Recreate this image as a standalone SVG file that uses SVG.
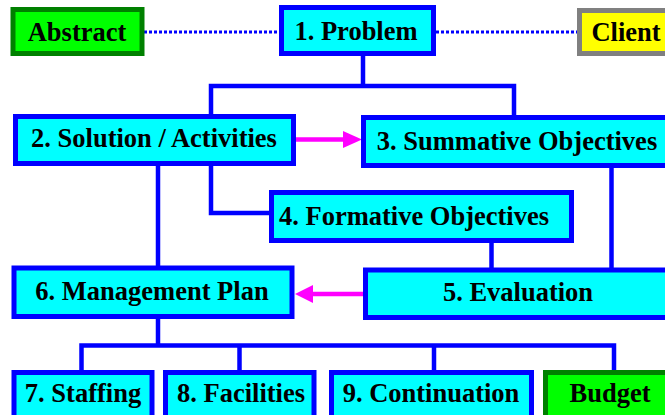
<svg xmlns="http://www.w3.org/2000/svg" width="665" height="415" viewBox="0 0 665 415">
<style>
.box rect{stroke-width:5}
.c rect{fill:#00ffff;stroke:#0000ff}
.g rect{fill:#00ff00;stroke:#008000}
.y rect{fill:#ffff00;stroke:#808080}
text{font-family:"Liberation Serif","Times New Roman",serif;font-weight:bold;font-size:26.5px;fill:#000;text-anchor:middle}
.ln{stroke:#0000ff;stroke-width:4.5;fill:none}
.dot{stroke:#0000ff;stroke-width:3;stroke-dasharray:3 2;fill:none}
.mg{stroke:#ff00ff;stroke-width:4.5;fill:none}
.mh{fill:#ff00ff}
</style>
<rect width="665" height="415" fill="#ffffff"/>
<g id="connectors">
<line class="dot" x1="144" y1="32" x2="279" y2="32"/>
<line class="dot" x1="436" y1="32" x2="577" y2="32"/>
<line class="ln" x1="363" y1="55" x2="363" y2="86"/>
<polyline class="ln" points="211,115 211,86 514,86 514,116"/>
<line class="ln" x1="158" y1="165" x2="158" y2="267"/>
<polyline class="ln" points="211,165 211,213 270,213"/>
<line class="ln" x1="491.5" y1="242" x2="491.5" y2="268"/>
<line class="ln" x1="611.5" y1="167" x2="611.5" y2="269"/>
<line class="ln" x1="158" y1="318" x2="158" y2="346"/>
<polyline class="ln" points="81.5,371 81.5,345.5 614,345.5 614,371"/>
<line class="ln" x1="239.5" y1="345.5" x2="239.5" y2="371"/>
<line class="ln" x1="434" y1="345.5" x2="434" y2="371"/>
<line class="mg" x1="296" y1="139.5" x2="346" y2="139.5"/>
<polygon class="mh" points="343,131 362,139.5 343,148"/>
<line class="mg" x1="363" y1="294" x2="311" y2="294"/>
<polygon class="mh" points="313,285 295,294 313,303"/>
</g>
<g id="abstract" class="box g"><rect x="13" y="9.5" width="129" height="44"/><text x="77" y="40.5">Abstract</text></g>
<g id="problem" class="box c"><rect x="281.5" y="7.5" width="152" height="46"/><text x="356" y="40">1. Problem</text></g>
<g id="client" class="box y"><rect x="579.5" y="10.5" width="95" height="43"/><text x="626" y="40.5">Client</text></g>
<g id="solution" class="box c"><rect x="15.5" y="116.5" width="278" height="47"/><text x="154" y="147">2. Solution / Activities</text></g>
<g id="summative" class="box c"><rect x="363.5" y="117.5" width="310" height="48"/><text x="517" y="149.5">3. Summative Objectives</text></g>
<g id="formative" class="box c"><rect x="271.5" y="192.5" width="300" height="48"/><text x="414" y="225">4. Formative Objectives</text></g>
<g id="management" class="box c"><rect x="14" y="268" width="278" height="48.5"/><text x="152" y="300">6. Management Plan</text></g>
<g id="evaluation" class="box c"><rect x="365.5" y="270" width="310" height="47.5"/><text x="518" y="301">5. Evaluation</text></g>
<g id="staffing" class="box c"><rect x="14" y="372.5" width="138" height="50"/><text x="83" y="402">7. Staffing</text></g>
<g id="facilities" class="box c"><rect x="165.5" y="372.5" width="148.5" height="50"/><text x="241" y="402">8. Facilities</text></g>
<g id="continuation" class="box c"><rect x="331.5" y="372.5" width="200" height="50"/><text x="431" y="402">9. Continuation</text></g>
<g id="budget" class="box g"><rect x="545.5" y="372.5" width="130" height="50"/><text x="610" y="402">Budget</text></g>
</svg>
